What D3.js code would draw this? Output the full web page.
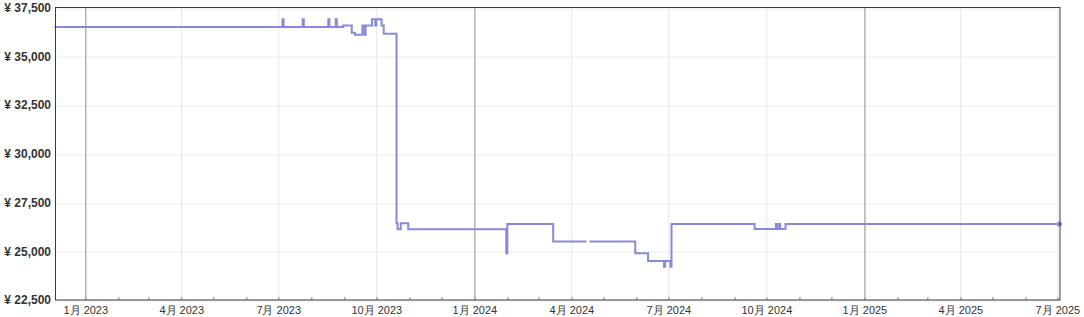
<!DOCTYPE html>
<html>
<head>
<meta charset="utf-8">
<script src="https://cdn.jsdelivr.net/npm/d3@7"></script>
<style>
  html, body { margin: 0; padding: 0; background: #fff; }
  svg { display: block; }
</style>
</head>
<body>
<svg id="chart" width="1084" height="317"></svg>
<script>
// ---- Data ----
const priceDates = [
  "2022-12-03", "2023-07-05", "2023-07-06", "2023-07-24", "2023-07-25",
  "2023-08-17", "2023-08-18", "2023-08-24", "2023-08-25", "2023-08-31",
  "2023-09-08", "2023-09-11", "2023-09-18", "2023-09-20", "2023-09-21",
  "2023-09-27", "2023-09-30", "2023-10-01", "2023-10-06", "2023-10-08",
  "2023-10-20", "2023-10-21", "2023-10-24", "2023-10-31", "2024-01-31",
  "2024-02-01", "2024-03-15", "2024-04-15", "2024-04-16", "2024-04-18",
  "2024-05-31", "2024-06-12", "2024-06-27", "2024-06-28", "2024-07-03",
  "2024-07-04", "2024-09-20", "2024-10-10", "2024-10-11", "2024-10-13",
  "2024-10-14", "2024-10-19", "2025-07-03"
];
const priceValues = [
  36500, 36900, 36500, 36900, 36500,
  36900, 36500, 36900, 36500, 36580,
  36200, 36100, 36580, 36100, 36580,
  36900, 36580, 36900, 36580, 36150,
  26430, 26130, 26430, 26130, 24900,
  26400, 25500, 25500, null, 25500,
  24900, 24500, 24200, 24500, 24200,
  26400, 26140, 26400, 26140, 26400,
  26140, 26400, 26400
];
const yTickValues = [22500, 25000, 27500, 30000, 32500, 35000, 37500];
const xTickDates = ["2023-01-01", "2023-04-01", "2023-07-01", "2023-10-01",
                    "2024-01-01", "2024-04-01", "2024-07-01", "2024-10-01",
                    "2025-01-01", "2025-04-01", "2025-07-01"];
const xDomain = ["2022-12-03T14:00", "2025-07-03T12:00"];

// ---- Layout ----
const mLeft = 55, mRight = 1060, mTop = 7.5, mBottom = 300;
const parseDay = d3.utcParse("%Y-%m-%d");
const parseDT = d3.utcParse("%Y-%m-%dT%H:%M");

const data = priceDates.map((d, i) => ({ t: parseDay(d), v: priceValues[i] }));
const xTicks = xTickDates.map(parseDay);

const x = d3.scaleUtc().domain(xDomain.map(parseDT)).range([mLeft, mRight]);
const y = d3.scaleLinear().domain([22500, 37500]).range([mBottom, mTop]);

const svg = d3.select("#chart");
const font = "'Liberation Sans', Arial, sans-serif";

// horizontal gridlines
svg.append("g")
  .attr("transform", `translate(${mLeft},0)`)
  .call(d3.axisLeft(y).tickValues(yTickValues).tickSize(-(mRight - mLeft)).tickFormat(""))
  .call(g => g.select(".domain").remove())
  .call(g => g.selectAll("line").attr("stroke", "#ebebeb").attr("stroke-width", 1)
        .attr("transform", function(d){ const yy = y(d); return `translate(0,${Math.round(yy) + 0.5 - yy})`; }));

// vertical gridlines (quarters light, January darker)
svg.append("g")
  .attr("transform", `translate(0,${mBottom})`)
  .call(d3.axisBottom(x).tickValues(xTicks).tickSize(-(mBottom - mTop)).tickFormat(""))
  .call(g => g.select(".domain").remove())
  .call(g => g.selectAll("line")
        .attr("stroke", d => d.getUTCMonth() === 0 ? "#a6a6a6" : "#e6e6e6")
        .attr("stroke-width", d => d.getUTCMonth() === 0 ? 1.3 : 1));

// monthly minor ticks
svg.append("g")
  .attr("transform", `translate(0,${mBottom})`)
  .call(d3.axisBottom(x).ticks(d3.utcMonth.every(1)).tickSize(-3).tickFormat(""))
  .call(g => g.select(".domain").remove())
  .call(g => g.selectAll("line").attr("stroke", "#aaaaaa").attr("stroke-width", 1.5));

// price line
const line = d3.line()
  .defined(d => d.v != null)
  .x(d => x(d.t))
  .y(d => y(d.v))
  .curve(d3.curveStepAfter);

svg.append("path")
  .datum(data)
  .attr("fill", "none")
  .attr("stroke", "#8888dd")
  .attr("stroke-width", 2)
  .attr("d", line);

// end marker
const last = data[data.length - 1];
svg.append("circle")
  .attr("cx", x(last.t)).attr("cy", y(last.v)).attr("r", 2.5)
  .attr("fill", "#8888dd");

// frame
svg.append("rect")
  .attr("x", mLeft + 0.5).attr("y", mTop)
  .attr("width", mRight - mLeft - 0.5).attr("height", mBottom - mTop)
  .attr("fill", "none").attr("stroke", "#3a3a3a").attr("stroke-width", 1);

// y axis labels
svg.append("g")
  .attr("transform", `translate(${mLeft},0)`)
  .call(d3.axisLeft(y).tickValues(yTickValues).tickSize(0).tickPadding(4)
        .tickFormat(v => "¥ " + d3.format(",")(v)))
  .call(g => g.select(".domain").remove())
  .call(g => g.selectAll("text")
        .attr("fill", "#333").attr("font-family", font)
        .attr("font-size", 12).attr("font-weight", "bold"));

// x axis labels
svg.append("g")
  .attr("transform", `translate(0,${mBottom})`)
  .call(d3.axisBottom(x).tickValues(xTicks).tickSize(0).tickPadding(6)
        .tickFormat(d => `${d.getUTCMonth() + 1}月 ${d.getUTCFullYear()}`))
  .call(g => g.select(".domain").remove())
  .call(g => g.selectAll("text")
        .attr("fill", "#333").attr("font-family", font)
        .attr("font-size", 11));
</script>
</body>
</html>
